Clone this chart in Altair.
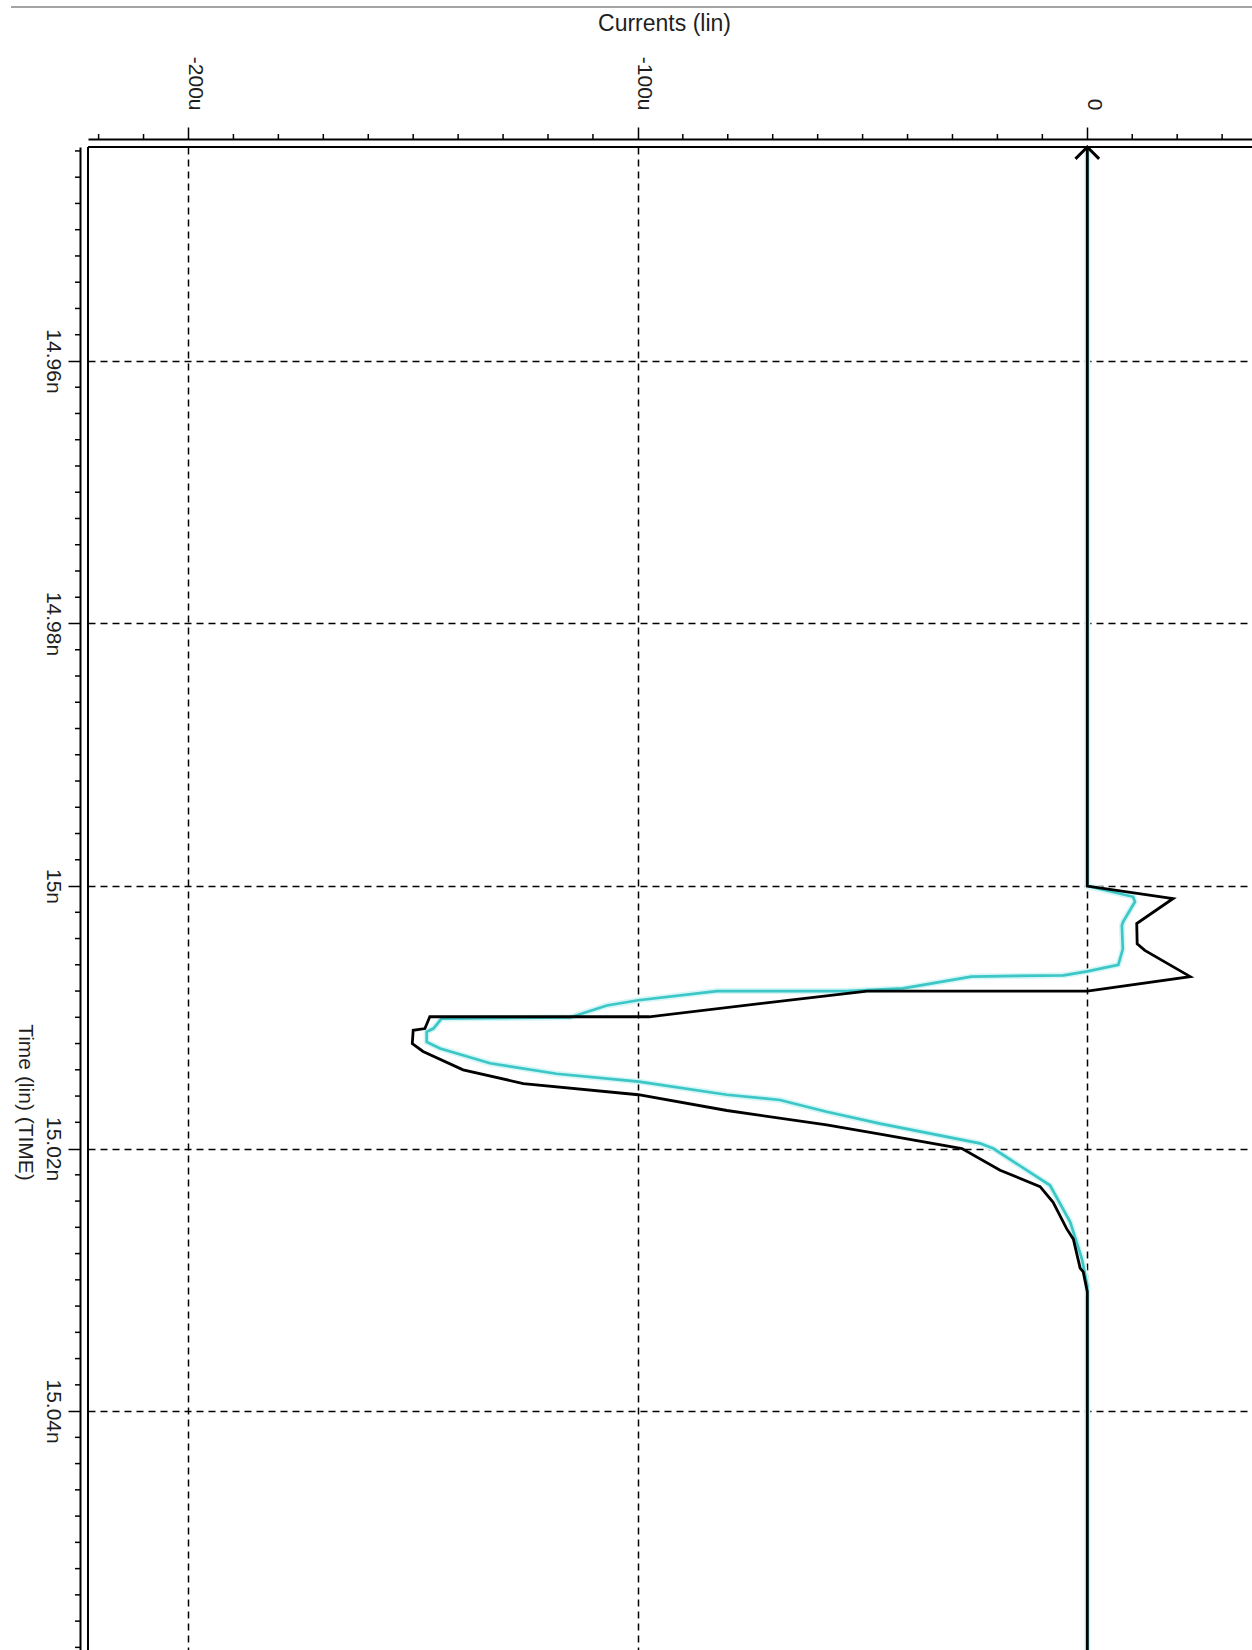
import altair as alt
import pandas as pd

# Transient simulation: currents through two devices around the 15 ns edge
# Time in ns, current in uA
black_t = [14.9437, 15.0, 15.00095, 15.00286, 15.0044, 15.0049, 15.0069, 15.0080, 15.0080, 15.00996,
           15.00996, 15.01086, 15.01099, 15.0120, 15.0126, 15.0140, 15.01505, 15.0159, 15.0171, 15.0182,
           15.0189, 15.0200, 15.02165, 15.0229, 15.0241, 15.0261, 15.0269, 15.0291, 15.0294, 15.0309,
           15.0582]
black_i = [0, 0, 19.1, 11.0, 11.1, 12.8, 22.9, 0, -49.0, -97.5,
           -146.3, -147.4, -150.0, -150.2, -147.8, -138.9, -125.5, -99.9, -80.2, -58.0,
           -46.1, -27.9, -19.4, -10.5, -7.6, -4.6, -3.1, -1.6, -0.9, 0,
           0]

cyan_t = [14.9437, 15.0, 15.00082, 15.0012, 15.0027, 15.0030, 15.0048, 15.0060, 15.0065, 15.0068,
          15.0069, 15.0078, 15.0080, 15.0080, 15.0087, 15.0091, 15.00984, 15.0100, 15.0101, 15.01086,
          15.0111, 15.01187, 15.01238, 15.0135, 15.0143, 15.0149, 15.0159, 15.0163, 15.0172, 15.0181,
          15.0196, 15.0200, 15.0228, 15.0256, 15.0284, 15.0304, 15.0582]
cyan_i = [0, 0, 10.2, 10.6, 8.0, 7.7, 7.9, 6.9, 0, -5.3,
          -25.8, -41.0, -53.8, -82.4, -99.9, -106.9, -113.6, -115.0, -143.7, -145.5,
          -147.0, -147.0, -144.0, -132.9, -118.1, -99.8, -80.2, -68.4, -58.0, -46.1,
          -23.9, -20.9, -8.3, -3.8, -1.2, 0, 0]

current_major = [-200, -100, 0]
time_major = [14.96, 14.98, 15.0, 15.02, 15.04, 15.06]
current_minor = [v for v in range(-220, 40, 10) if v not in current_major]
time_minor = [round(14.944 + 0.002 * k, 3) for k in range(58)]
time_minor = [v for v in time_minor if v not in time_major]

T0, T1 = 14.9437, 15.0582
I0, I1 = -222.36, 36.65
W, H = 1164, 1503

FONT = "Liberation Sans, Arial, sans-serif"
TXT = "#1e1e1e"

x_scale = alt.Scale(domain=[I0, I1], nice=False, zero=False)
y_scale = alt.Scale(domain=[T0, T1], nice=False, zero=False, reverse=True)

x_axis = alt.Axis(
    orient="top", values=current_major, offset=8,
    tickSize=12, tickWidth=1.5, tickColor="black",
    domainColor="black", domainWidth=2,
    labelAngle=90, labelAlign="right", labelBaseline="alphabetic", labelPadding=17,
    labelFont=FONT, labelFontSize=21, labelColor=TXT,
    labelExpr="datum.value == 0 ? '0' : datum.value + 'u'",
    labelOverlap=False, labelFlush=False, labelBound=False,
    grid=True, gridDash=[7, 5], gridColor="black", gridWidth=1.5,
    title="Currents (lin)", titleFont=FONT, titleFontSize=23, titleFontWeight="normal",
    titleColor=TXT, titleAngle=0, titleAlign="center", titleBaseline="middle",
    titleX=576, titleY=-116,
)
y_axis = alt.Axis(
    orient="left", values=time_major, offset=8,
    tickSize=12, tickWidth=1.5, tickColor="black",
    domainColor="black", domainWidth=2,
    labelAngle=90, labelAlign="center", labelBaseline="top", labelPadding=5,
    labelFont=FONT, labelFontSize=21, labelColor=TXT,
    labelExpr="format(datum.value, '.2~f') + 'n'",
    labelOverlap=False, labelFlush=False, labelBound=False,
    grid=True, gridDash=[7, 5], gridColor="black", gridWidth=1.5,
    title="Time (lin) (TIME)", titleFont=FONT, titleFontSize=21, titleFontWeight="normal",
    titleColor=TXT, titleAngle=90, titleAlign="center", titleBaseline="middle",
    titleX=-56, titleY=955,
)


def xq(field):
    return alt.X(field, type="quantitative", scale=x_scale, axis=x_axis)


def yq(field):
    return alt.Y(field, type="quantitative", scale=y_scale, axis=y_axis)


def trace(ts, cs):
    return pd.DataFrame({"t": ts, "i": cs, "seq": list(range(len(ts)))})


black_df = trace(black_t, black_i)
cyan_df = trace(cyan_t, cyan_i)

cyan_halo = alt.Chart(cyan_df).mark_line(color="#d4f6f6", strokeWidth=6).encode(
    x=xq("i"), y=yq("t"), order="seq:Q"
)
cyan_line = alt.Chart(cyan_df).mark_line(color="#3cc6c6", strokeWidth=2.7).encode(
    x=xq("i"), y=yq("t"), order="seq:Q"
)
black_line = alt.Chart(black_df).mark_line(color="black", strokeWidth=2.8).encode(
    x=xq("i"), y=yq("t"), order="seq:Q"
)

# arrow head where the trace leaves the top of the window
arrow = alt.Chart(pd.DataFrame({"t": [T0], "i": [0]})).mark_point(
    shape="M-1,1L0,0L1,1", size=560, filled=False, stroke="black", strokeWidth=3, opacity=1
).encode(x=xq("i"), y=yq("t"))

# plot frame (left and top edges)
frame_left = alt.Chart(pd.DataFrame({"k": [0]})).mark_rule(color="black", strokeWidth=2).encode(
    x=alt.value(0), y=alt.value(0), y2=alt.value(H)
)
frame_top = alt.Chart(pd.DataFrame({"k": [0]})).mark_rule(color="black", strokeWidth=2).encode(
    y=alt.value(0), x=alt.value(0), x2=alt.value(W)
)

# minor ticks
minor_x = alt.Chart(pd.DataFrame({"v": current_minor})).mark_rule(color="black", strokeWidth=1.5).encode(
    x=xq("v"), y=alt.value(-13), y2=alt.value(-8)
)
minor_y = alt.Chart(pd.DataFrame({"v": time_minor})).mark_rule(color="black", strokeWidth=1.5).encode(
    y=yq("v"), x=alt.value(-13), x2=alt.value(-8)
)

# window border line above the plot
border = alt.Chart(pd.DataFrame({"k": [0]})).mark_rule(color="#a3a3a3", strokeWidth=2).encode(
    y=alt.value(-140), x=alt.value(-77), x2=alt.value(W)
)

chart = alt.layer(
    cyan_halo, cyan_line, black_line, arrow, frame_left, frame_top, minor_x, minor_y, border
).properties(
    width=W, height=H,
    autosize=alt.AutoSizeParams(type="none"),
    padding={"left": 88, "top": 147, "right": 0, "bottom": 0},
    background="white",
).configure_view(strokeWidth=0)

chart.save("out.html", embed_options={"renderer": "svg", "actions": False})
